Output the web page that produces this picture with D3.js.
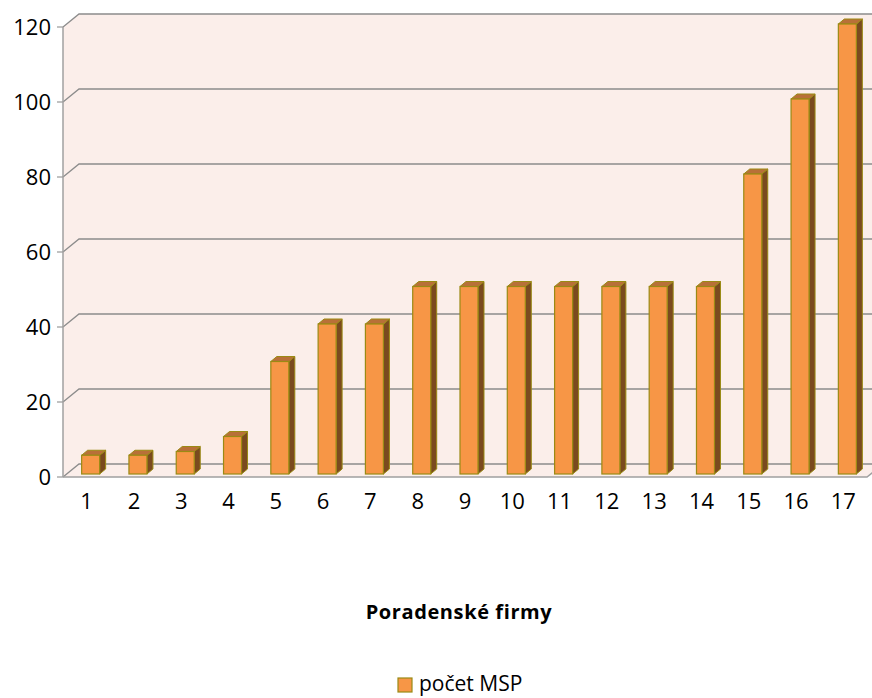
<!DOCTYPE html>
<html>
<head>
<meta charset="utf-8">
<script src="https://cdn.jsdelivr.net/npm/d3@7"></script>
<style>
  body { margin: 0; background: #fff; }
  text { font-family: "Open Sans", sans-serif; }
</style>
</head>
<body>
<script>
// data
const categories = ['1','2','3','4','5','6','7','8','9','10','11','12','13','14','15','16','17']
const pocetMSP = [5, 5, 6, 10, 30, 40, 40, 50, 50, 50, 50, 50, 50, 50, 80, 100, 120]
const yTicks = [0, 20, 40, 60, 80, 100, 120]
const axisTitle = 'Poradenské firmy'
const seriesName = 'počet MSP'

const width = 872, height = 698
const depth = { dx: 16, dy: -13 }   // 3d wall offset
const barShift = { dx: 4, dy: -3 }  // bar sits a bit inside the floor
const barDepth = { dx: 6, dy: -5 }

const svg = d3.select('body').append('svg')
  .attr('width', width)
  .attr('height', height)

const x = d3.scaleBand().domain(categories).range([63, 867])
const y = d3.scaleLinear().domain([0, 120]).range([477, 27])

const wallFill = '#fbeeea'
const gridCol = '#8c8c8c'

// back wall, left wall, floor
const x0 = x.range()[0], x1 = x.range()[1]
svg.append('polygon')
  .attr('points', [[x0 + depth.dx, y(120) + depth.dy], [width + 20, y(120) + depth.dy],
    [width + 20, y(0) + depth.dy], [x0 + depth.dx, y(0) + depth.dy]].join(' '))
  .attr('fill', wallFill)
svg.append('polygon')
  .attr('points', [[x0, y(120)], [x0 + depth.dx, y(120) + depth.dy],
    [x0 + depth.dx, y(0) + depth.dy], [x0, y(0)]].join(' '))
  .attr('fill', wallFill)
svg.append('polygon')
  .attr('points', [[x0, y(0)], [x0 + depth.dx, y(0) + depth.dy],
    [x1 + depth.dx, y(0) + depth.dy], [x1, y(0)]].join(' '))
  .attr('fill', wallFill)

// gridlines: diagonal on left wall + horizontal on back wall
const grid = svg.append('g')
grid.selectAll('path').data(yTicks).join('path')
  .attr('d', d => `M${x0},${y(d)}L${x0 + depth.dx},${y(d) + depth.dy}L${width + 20},${y(d) + depth.dy}`)
  .attr('fill', 'none')
  .attr('stroke', gridCol)
  .attr('stroke-width', 1.3)

// front floor edge (with right-hand diagonal) and left axis
svg.append('path')
  .attr('d', `M${x0},${y(0)}L${x1},${y(0)}L${x1 + depth.dx},${y(0) + depth.dy}`)
  .attr('fill', 'none')
  .attr('stroke', '#a0a0a0').attr('stroke-width', 1.5)
svg.append('line')
  .attr('x1', x0).attr('x2', x0)
  .attr('y1', y(120)).attr('y2', y(0))
  .attr('stroke', '#a0a0a0').attr('stroke-width', 1.5)

// y ticks + labels
const yAxis = svg.append('g')
yAxis.selectAll('line').data(yTicks).join('line')
  .attr('x1', x0 - 6).attr('x2', x0)
  .attr('y1', d => y(d)).attr('y2', d => y(d))
  .attr('stroke', '#a0a0a0').attr('stroke-width', 1.3)
yAxis.selectAll('text').data(yTicks).join('text')
  .attr('x', x0 - 12)
  .attr('y', d => y(d))
  .attr('dy', '0.36em')
  .attr('text-anchor', 'end')
  .attr('font-size', 22)
  .attr('fill', '#000')
  .text(d => d)

// x labels
svg.append('g').selectAll('text').data(categories).join('text')
  .attr('x', d => x(d) + x.bandwidth() / 2)
  .attr('y', 509)
  .attr('text-anchor', 'middle')
  .attr('font-size', 22)
  .attr('fill', '#000')
  .text(d => d)

// 3d bars
const barW = 18
const bars = svg.append('g').selectAll('g')
  .data(categories.map((c, i) => ({ cat: c, value: pocetMSP[i] })))
  .join('g')

const fx = d => x(d.cat) + x.bandwidth() / 2 - barW / 2 + barShift.dx
const fb = () => y(0) + barShift.dy
const ft = d => y(d.value) + barShift.dy

// side face
bars.append('polygon')
  .attr('points', d => [[fx(d) + barW, ft(d)], [fx(d) + barW + barDepth.dx, ft(d) + barDepth.dy],
    [fx(d) + barW + barDepth.dx, fb() + barDepth.dy], [fx(d) + barW, fb()]].join(' '))
  .attr('fill', '#7a4a1f')
  .attr('stroke', '#9a8a14').attr('stroke-width', 1)
// top face
bars.append('polygon')
  .attr('points', d => [[fx(d), ft(d)], [fx(d) + barDepth.dx, ft(d) + barDepth.dy],
    [fx(d) + barW + barDepth.dx, ft(d) + barDepth.dy], [fx(d) + barW, ft(d)]].join(' '))
  .attr('fill', '#b87038')
  .attr('stroke', '#9a8a14').attr('stroke-width', 1)
// front face
bars.append('rect')
  .attr('x', fx)
  .attr('y', ft)
  .attr('width', barW)
  .attr('height', d => fb() - ft(d))
  .attr('fill', '#f79646')
  .attr('stroke', '#9a8a14').attr('stroke-width', 1.2)

// axis title
svg.append('text')
  .attr('x', 459).attr('y', 619)
  .attr('text-anchor', 'middle')
  .attr('font-size', 20)
  .attr('font-weight', 'bold')
  .attr('letter-spacing', 0.6)
  .attr('fill', '#000')
  .text(axisTitle)

// legend
const legend = svg.append('g')
legend.append('rect')
  .attr('x', 398).attr('y', 678)
  .attr('width', 14).attr('height', 14)
  .attr('fill', '#f79646')
  .attr('stroke', '#9a8a14').attr('stroke-width', 1.2)
legend.append('text')
  .attr('x', 419).attr('y', 691)
  .attr('font-size', 21)
  .attr('fill', '#000')
  .text(seriesName)
</script>
</body>
</html>
